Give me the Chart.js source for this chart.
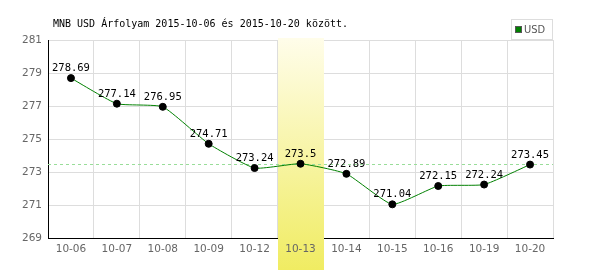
<!DOCTYPE html>
<html>
<head>
<meta charset="utf-8">
<script src="https://cdn.jsdelivr.net/npm/chart.js@4"></script>
<style>
  html, body { margin: 0; padding: 0; background: #fff; }
  #wrap { width: 600px; height: 270px; position: relative; }
</style>
</head>
<body>
<div id="wrap"><canvas id="rateChart"></canvas></div>
<script>
let dates = ['10-06','10-07','10-08','10-09','10-12','10-13','10-14','10-15','10-16','10-19','10-20'];
let usdRates = [278.69, 277.14, 276.95, 274.71, 273.24, 273.5, 272.89, 271.04, 272.15, 272.24, 273.45];
let yTicks = [269, 271, 273, 275, 277, 279, 281];
let titleText = 'MNB USD Árfolyam 2015-10-06 és 2015-10-20 között.';
let seriesName = 'USD';
let highlightIndex = 5; // the selected day, also used for the dashed reference line

const monoFont = '10px "DejaVu Sans Mono", monospace';

// draws the yellow column, the dashed line, value labels, title and legend
const extras = {
    id: 'extras',
    beforeDatasetsDraw(chart) {
        const ctx = chart.ctx;
        const x = chart.scales.x, y = chart.scales.y;
        const half = (x.getPixelForValue(1) - x.getPixelForValue(0)) / 2;
        const cx = x.getPixelForValue(highlightIndex);
        const top = chart.chartArea.top - 2;
        const bottom = chart.height;
        let grad = ctx.createLinearGradient(0, top, 0, bottom);
        grad.addColorStop(0, '#fffdea');
        grad.addColorStop(1, '#f0ec62');
        ctx.save();
        ctx.fillStyle = grad;
        ctx.fillRect(Math.round(cx - half), top, Math.round(half * 2), bottom - top);

        // dashed reference line at selected day value
        const ly = Math.round(y.getPixelForValue(usdRates[highlightIndex])) + 0.5;
        ctx.strokeStyle = '#99dd99';
        ctx.lineWidth = 1;
        ctx.setLineDash([3, 3]);
        ctx.beginPath();
        ctx.moveTo(chart.chartArea.left, ly);
        ctx.lineTo(chart.chartArea.right, ly);
        ctx.stroke();
        ctx.restore();
    },
    afterDatasetsDraw(chart) {
        const ctx = chart.ctx;
        const meta = chart.getDatasetMeta(0);
        ctx.save();
        ctx.font = '10.5px "DejaVu Sans Mono", monospace';
        ctx.fillStyle = '#000';
        ctx.textAlign = 'center';
        ctx.textBaseline = 'alphabetic';
        meta.data.forEach((pt, i) => {
            ctx.fillText(String(usdRates[i]), pt.x, pt.y - 7);
        });
        ctx.restore();
    },
    afterDraw(chart) {
        const ctx = chart.ctx;
        ctx.save();
        // title
        ctx.font = monoFont;
        ctx.fillStyle = '#000';
        ctx.textAlign = 'left';
        ctx.textBaseline = 'middle';
        ctx.fillText(titleText, 53, 24);

        // legend box
        ctx.fillStyle = '#fff';
        ctx.fillRect(511, 19, 42, 21);
        ctx.strokeStyle = '#dddddd';
        ctx.lineWidth = 1;
        ctx.strokeRect(511.5, 19.5, 41, 20);
        ctx.fillStyle = '#008000';
        ctx.fillRect(515, 26, 7, 7);
        ctx.strokeStyle = '#555';
        ctx.strokeRect(515.5, 26.5, 6, 6);
        ctx.font = '11px "DejaVu Sans Condensed", "DejaVu Sans", sans-serif';
        ctx.fillStyle = '#555';
        ctx.fillText(seriesName, 524, 30);
        ctx.restore();
    }
};

const ctx = document.getElementById('rateChart').getContext('2d');
const chart = new Chart(ctx, {
    type: 'line',
    data: {
        labels: dates,
        datasets: [{
            label: seriesName,
            data: usdRates,
            borderColor: '#008000',
            borderWidth: 1,
            pointBackgroundColor: '#000',
            pointBorderColor: '#000',
            pointRadius: 3.5,
            pointBorderWidth: 1,
            tension: 0.15,
            fill: false
        }]
    },
    options: {
        responsive: true,
        maintainAspectRatio: false,
        animation: false,
        layout: { padding: { top: 40, right: 47, left: 0, bottom: 0 } },
        plugins: {
            legend: { display: false },
            tooltip: { enabled: false },
            title: { display: false }
        },
        scales: {
            x: {
                type: 'category',
                offset: true,
                grid: { offset: true, color: '#dddddd', drawTicks: false },
                border: { color: '#000', width: 1 },
                ticks: {
                    z: 1,
                    color: '#666',
                    padding: 5,
                    maxRotation: 0,
                    autoSkip: false,
                    font: { family: '"DejaVu Sans", sans-serif', size: 10.5 }
                },
                afterFit(scale) { scale.height = 32; }
            },
            y: {
                min: 269,
                max: 281,
                afterBuildTicks(scale) { scale.ticks = yTicks.map(v => ({ value: v })); },
                grid: { color: '#dddddd', drawTicks: false },
                border: { color: '#000', width: 1 },
                ticks: {
                    color: '#666',
                    padding: 6,
                    font: { family: '"DejaVu Sans", sans-serif', size: 10.5 }
                },
                afterFit(scale) { scale.width = 48; }
            }
        }
    },
    plugins: [extras]
});
</script>
</body>
</html>
